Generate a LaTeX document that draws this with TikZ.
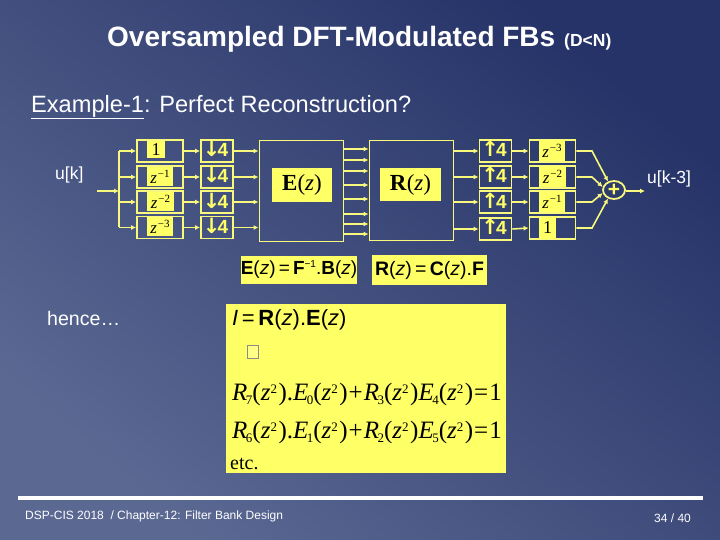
\documentclass[tikz,border=0pt]{standalone}
\usepackage{fontspec}
\setmainfont{Liberation Sans}
\newfontfamily\srf{Liberation Serif}
\newfontfamily\arrf{DejaVu Sans}
\usetikzlibrary{calc,shapes.geometric,arrows.meta}
\definecolor{bgA}{HTML}{5A6892}
\definecolor{bgB}{HTML}{263368}
\definecolor{yel}{HTML}{FFFF66}
\definecolor{lin}{HTML}{F8F87C}
\newcommand{\fs}[1]{\fontsize{#1}{#1}\selectfont}
\newcommand{\zp}[1]{{\srf\fs{17}\itshape z}\kern1pt\raisebox{6pt}{\srf\fs{11}\textminus#1}}
\newcommand{\ev}[3]{{\srf\itshape #1}\kern-1.5pt\raisebox{-4.5pt}{\srf\fs{13}#2}\kern#3pt}
\newcommand{\zz}{({\itshape z}\raisebox{7pt}{\fs{13}2}\kern1.5pt)}
\newcommand{\dn}{\kern-3pt{\arrf\bfseries\fs{21}↓}\kern-3pt}
\newcommand{\up}{\kern-3pt{\arrf\bfseries\fs{21}↑}\kern-3pt}
\tikzset{
  dbox/.style={draw=lin,line width=1.8pt,minimum width=46pt,minimum height=22pt,inner sep=0pt},
  rbox/.style={draw=lin,line width=1.8pt,minimum width=32pt,minimum height=22pt,text height=13pt,text depth=1pt,inner sep=0pt,text=yel,font=\bfseries\fs{19}},
  bigbox/.style={draw=lin,line width=1pt,minimum width=84pt,minimum height=100pt,inner sep=0pt},
  patch/.style={fill=yel,inner sep=0pt,text=black,font=\srf},
  wire/.style={draw=lin,line width=1.6pt},
  arr/.style={wire,-{Latex[length=5pt,width=5pt]}},
  lab/.style={inner sep=0pt,text=white,anchor=west}
}
\begin{document}
\begin{tikzpicture}[x=1pt,y=-1pt]
\useasboundingbox (0,0) rectangle (720,540);
\shade[shading=axis,left color=bgB,right color=bgA,shading angle=-40] (0,0) rectangle (720,540);
% titles
\node[lab] (title) at (107,39) {\bfseries\fs{28}Oversampled DFT-Modulated FBs};
\node[lab] (dn) at (564,42) {\bfseries\fs{17.5}(D<N)};
\node[lab] (ex) at (31,107) {\fs{23.6}\underline{Example-1}: Perfect Reconstruction?};
\node[lab] (uk) at (55,175) {\fs{17.5}u[k]};
\node[lab] (uk3) at (647,179) {\fs{17.5}u[k-3]};
\node[lab] (hence) at (47,318) {\fs{19.6}hence…};
% left delays
\node[dbox] (d0) at (160,151) {};
\node[dbox] (d1) at (160,177) {};
\node[dbox] (d2) at (160,202) {};
\node[dbox] (d3) at (160,227.5) {};
\node[patch,minimum width=18pt,minimum height=17pt] (p0) at (156,150) {\fs{18}1};
\node[patch,minimum width=26pt,minimum height=19pt] (p1) at (160,176.5) {\zp{1}};
\node[patch,minimum width=27pt,minimum height=19pt] (p2) at (160.5,201.5) {\zp{2}};
\node[patch,minimum width=26pt,minimum height=19pt] (p3) at (160,226.5) {\zp{3}};
% down
\node[rbox] (n0) at (217,151) {\dn4};
\node[rbox] (n1) at (217,177) {\dn4};
\node[rbox] (n2) at (217,202) {\dn4};
\node[rbox] (n3) at (217,227.5) {\dn4};
% E R
\node[bigbox] (E) at (301,191) {};
\node[bigbox] (R) at (411,190.5) {};
\node[patch,minimum width=60pt,minimum height=34pt] (Et) at (302,185) {\fs{23}\textbf{E}(\textit{z})};
\node[patch,minimum width=61pt,minimum height=33pt] (Rt) at (410.5,184.5) {\fs{23}\textbf{R}(\textit{z})};
% up
\node[rbox] (u0) at (495.5,151) {\up4};
\node[rbox] (u1) at (495.5,177) {\up4};
\node[rbox] (u2) at (495.5,202) {\up4};
\node[rbox] (u3) at (495.5,229) {\up4};
% right delays
\node[dbox] (c0) at (552.5,151) {};
\node[dbox] (c1) at (552.5,177) {};
\node[dbox] (c2) at (552.5,202) {};
\node[dbox] (c3) at (552.5,228) {};
\node[patch,minimum width=26pt,minimum height=21pt] (q0) at (552,151) {\zp{3}};
\node[patch,minimum width=27pt,minimum height=21pt] (q1) at (552.5,177) {\zp{2}};
\node[patch,minimum width=26pt,minimum height=21pt] (q2) at (552,202) {\zp{1}};
\node[patch,minimum width=17pt,minimum height=21pt] (q3) at (547.5,228) {\fs{18}1};
% sum
\node[ellipse,draw=lin,line width=1.8pt,minimum width=22pt,minimum height=18pt,inner sep=0pt] (sum) at (614,190) {};
\node[inner sep=0pt,text=yel,font=\bfseries\fs{21}] (plus) at (614,190) {+};
% input wiring
\coordinate (in) at (97,191);
\coordinate (j) at (119,191);
\draw[arr] (in) -- (j);
\draw[wire] (j |- d0) -- (j |- d3);
\foreach \i in {0,1,2,3}{
  \draw[arr] (j |- d\i) -- (d\i.west);
  \draw[arr] (d\i.east) -- (n\i.west);
  \draw[arr] (n\i.east) -- (n\i.east -| E.west);
  \draw[arr] (u\i.east) -- (c\i.west);
  \draw[arr] (u\i.west -| R.east) -- (u\i.west);
}
% E to R
\foreach \i/\yy in {1/149,2/160,3/171,4/185,5/199,6/214,7/224,8/234}{
  \coordinate (ch\i) at (0,\yy);
  \draw[arr] (E.east |- ch\i) -- (R.west |- ch\i);
}
% to the sum
\draw[arr] (c0.east) -- (592,151) -- (sum.125);
\draw[arr] (c1.east) -- (592,177) -- (sum.165);
\draw[arr] (c2.east) -- (592,202) -- (sum.195);
\draw[arr] (c3.east) -- (592,228) -- (sum.235);
\coordinate (out) at (645,191);
\draw[arr] (sum.east |- out) -- (out);
% formula strips
\node[patch,minimum width=116pt,minimum height=28pt,font=\fs{19}] (eqE) at (299,270) {\textbf{E}(\textit{z})\,=\,\textbf{F}\raisebox{7pt}{\fs{10}\textminus1}.\textbf{B}(\textit{z})};
\node[patch,minimum width=115pt,minimum height=30pt,font=\fs{19.5}] (eqR) at (429.5,270) {\textbf{R}(\textit{z})\,=\,\textbf{C}(\textit{z}).\textbf{F}};
% big panel
\node[fill=yel,inner sep=0pt,minimum width=280pt,minimum height=169pt] (panel) at (366,388.5) {};
\node[inner sep=0pt,anchor=west,text=black,font=\fs{22}] (l1) at (232,320) {\textit{I}\,=\,\textbf{R}(\textit{z}).\textbf{E}(\textit{z})};
\node[draw=black!45,line width=.6pt,fill=yel!80!white,minimum width=11.5pt,minimum height=13pt,inner sep=0pt] (tofu) at (253,351.5) {};
\node[inner sep=0pt,anchor=west,text=black,font=\srf\fs{25}] (l2) at (232,394) {\ev{R}{7}{0}\zz.\ev{E}{0}{0}\zz\kern1pt+\kern1pt\ev{R}{3}{0}\zz\ev{E}{4}{0}\zz\kern1pt=\kern1pt1};
\node[inner sep=0pt,anchor=west,text=black,font=\srf\fs{25}] (l3) at (232,432) {\ev{R}{6}{0}\zz.\ev{E}{1}{0}\zz\kern1pt+\kern1pt\ev{R}{2}{0}\zz\ev{E}{5}{0}\zz\kern1pt=\kern1pt1};
\node[inner sep=0pt,anchor=west,text=black,font=\srf\fs{20}] (l4) at (230,464) {etc.};
% footer
\fill[white] (18,496) rectangle (703,500);
\node[lab] (foot) at (25,516) {\fs{12}DSP-CIS 2018 \ / Chapter-12: Filter Bank Design};
\node[lab] (page) at (654,518) {\fs{12}34 / 40};
\end{tikzpicture}
\end{document}
